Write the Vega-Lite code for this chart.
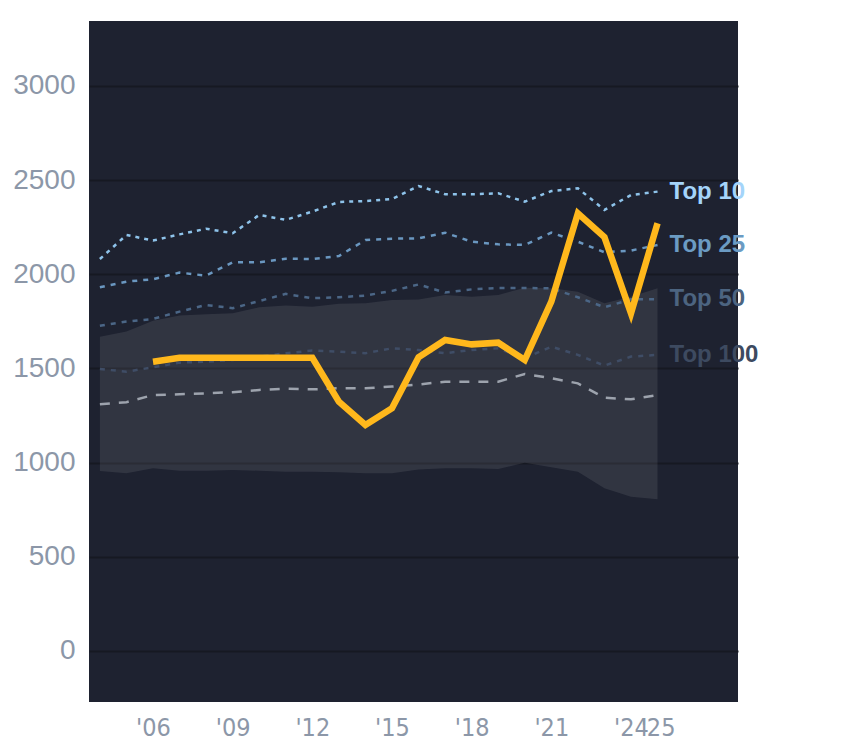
{
  "$schema": "https://vega.github.io/schema/vega-lite/v6.json",
  "width": 649,
  "height": 681,
  "autosize": {"type": "none"},
  "padding": {"left": 89, "top": 21, "right": 106, "bottom": 46},
  "background": "#ffffff",
  "config": {
    "view": {"fill": "#1e2230", "stroke": null},
    "font": "Liberation Sans"
  },
  "datasets": {
    "band": [
      {"year": 2004, "lo": 956, "hi": 1669},
      {"year": 2005, "lo": 943, "hi": 1696},
      {"year": 2006, "lo": 970, "hi": 1754},
      {"year": 2007, "lo": 957, "hi": 1781},
      {"year": 2008, "lo": 957, "hi": 1788},
      {"year": 2009, "lo": 961, "hi": 1793},
      {"year": 2010, "lo": 957, "hi": 1825},
      {"year": 2011, "lo": 952, "hi": 1835},
      {"year": 2012, "lo": 952, "hi": 1828},
      {"year": 2013, "lo": 949, "hi": 1843},
      {"year": 2014, "lo": 943, "hi": 1846},
      {"year": 2015, "lo": 943, "hi": 1864},
      {"year": 2016, "lo": 963, "hi": 1866},
      {"year": 2017, "lo": 970, "hi": 1890},
      {"year": 2018, "lo": 970, "hi": 1881},
      {"year": 2019, "lo": 966, "hi": 1890},
      {"year": 2020, "lo": 1000, "hi": 1929},
      {"year": 2021, "lo": 975, "hi": 1926},
      {"year": 2022, "lo": 952, "hi": 1908},
      {"year": 2023, "lo": 864, "hi": 1846},
      {"year": 2024, "lo": 819, "hi": 1881},
      {"year": 2025, "lo": 806, "hi": 1926}
    ],
    "tiers": [
      {"year": 2004, "series": "Top 10", "value": 2081},
      {"year": 2005, "series": "Top 10", "value": 2209},
      {"year": 2006, "series": "Top 10", "value": 2179},
      {"year": 2007, "series": "Top 10", "value": 2212},
      {"year": 2008, "series": "Top 10", "value": 2242},
      {"year": 2009, "series": "Top 10", "value": 2218},
      {"year": 2010, "series": "Top 10", "value": 2315},
      {"year": 2011, "series": "Top 10", "value": 2289},
      {"year": 2012, "series": "Top 10", "value": 2333},
      {"year": 2013, "series": "Top 10", "value": 2384},
      {"year": 2014, "series": "Top 10", "value": 2389},
      {"year": 2015, "series": "Top 10", "value": 2400},
      {"year": 2016, "series": "Top 10", "value": 2469},
      {"year": 2017, "series": "Top 10", "value": 2425},
      {"year": 2018, "series": "Top 10", "value": 2425},
      {"year": 2019, "series": "Top 10", "value": 2430},
      {"year": 2020, "series": "Top 10", "value": 2386},
      {"year": 2021, "series": "Top 10", "value": 2442},
      {"year": 2022, "series": "Top 10", "value": 2457},
      {"year": 2023, "series": "Top 10", "value": 2342},
      {"year": 2024, "series": "Top 10", "value": 2421},
      {"year": 2025, "series": "Top 10", "value": 2439},
      {"year": 2004, "series": "Top 25", "value": 1931},
      {"year": 2005, "series": "Top 25", "value": 1961},
      {"year": 2006, "series": "Top 25", "value": 1974},
      {"year": 2007, "series": "Top 25", "value": 2009},
      {"year": 2008, "series": "Top 25", "value": 1993},
      {"year": 2009, "series": "Top 25", "value": 2064},
      {"year": 2010, "series": "Top 25", "value": 2064},
      {"year": 2011, "series": "Top 25", "value": 2083},
      {"year": 2012, "series": "Top 25", "value": 2081},
      {"year": 2013, "series": "Top 25", "value": 2097},
      {"year": 2014, "series": "Top 25", "value": 2182},
      {"year": 2015, "series": "Top 25", "value": 2189},
      {"year": 2016, "series": "Top 25", "value": 2191},
      {"year": 2017, "series": "Top 25", "value": 2221},
      {"year": 2018, "series": "Top 25", "value": 2173},
      {"year": 2019, "series": "Top 25", "value": 2159},
      {"year": 2020, "series": "Top 25", "value": 2156},
      {"year": 2021, "series": "Top 25", "value": 2221},
      {"year": 2022, "series": "Top 25", "value": 2173},
      {"year": 2023, "series": "Top 25", "value": 2117},
      {"year": 2024, "series": "Top 25", "value": 2126},
      {"year": 2025, "series": "Top 25", "value": 2156},
      {"year": 2004, "series": "Top 50", "value": 1727},
      {"year": 2005, "series": "Top 50", "value": 1749},
      {"year": 2006, "series": "Top 50", "value": 1763},
      {"year": 2007, "series": "Top 50", "value": 1802},
      {"year": 2008, "series": "Top 50", "value": 1837},
      {"year": 2009, "series": "Top 50", "value": 1820},
      {"year": 2010, "series": "Top 50", "value": 1858},
      {"year": 2011, "series": "Top 50", "value": 1896},
      {"year": 2012, "series": "Top 50", "value": 1873},
      {"year": 2013, "series": "Top 50", "value": 1878},
      {"year": 2014, "series": "Top 50", "value": 1887},
      {"year": 2015, "series": "Top 50", "value": 1912},
      {"year": 2016, "series": "Top 50", "value": 1946},
      {"year": 2017, "series": "Top 50", "value": 1903},
      {"year": 2018, "series": "Top 50", "value": 1920},
      {"year": 2019, "series": "Top 50", "value": 1927},
      {"year": 2020, "series": "Top 50", "value": 1927},
      {"year": 2021, "series": "Top 50", "value": 1926},
      {"year": 2022, "series": "Top 50", "value": 1878},
      {"year": 2023, "series": "Top 50", "value": 1825},
      {"year": 2024, "series": "Top 50", "value": 1867},
      {"year": 2025, "series": "Top 50", "value": 1867},
      {"year": 2004, "series": "Top 100", "value": 1497},
      {"year": 2005, "series": "Top 100", "value": 1483},
      {"year": 2006, "series": "Top 100", "value": 1506},
      {"year": 2007, "series": "Top 100", "value": 1531},
      {"year": 2008, "series": "Top 100", "value": 1536},
      {"year": 2009, "series": "Top 100", "value": 1545},
      {"year": 2010, "series": "Top 100", "value": 1563},
      {"year": 2011, "series": "Top 100", "value": 1581},
      {"year": 2012, "series": "Top 100", "value": 1595},
      {"year": 2013, "series": "Top 100", "value": 1589},
      {"year": 2014, "series": "Top 100", "value": 1581},
      {"year": 2015, "series": "Top 100", "value": 1607},
      {"year": 2016, "series": "Top 100", "value": 1598},
      {"year": 2017, "series": "Top 100", "value": 1581},
      {"year": 2018, "series": "Top 100", "value": 1598},
      {"year": 2019, "series": "Top 100", "value": 1607},
      {"year": 2020, "series": "Top 100", "value": 1554},
      {"year": 2021, "series": "Top 100", "value": 1616},
      {"year": 2022, "series": "Top 100", "value": 1572},
      {"year": 2023, "series": "Top 100", "value": 1515},
      {"year": 2024, "series": "Top 100", "value": 1563},
      {"year": 2025, "series": "Top 100", "value": 1572},
      {"year": 2004, "series": "Median", "value": 1310},
      {"year": 2005, "series": "Median", "value": 1321},
      {"year": 2006, "series": "Median", "value": 1359},
      {"year": 2007, "series": "Median", "value": 1363},
      {"year": 2008, "series": "Median", "value": 1368},
      {"year": 2009, "series": "Median", "value": 1374},
      {"year": 2010, "series": "Median", "value": 1386},
      {"year": 2011, "series": "Median", "value": 1393},
      {"year": 2012, "series": "Median", "value": 1389},
      {"year": 2013, "series": "Median", "value": 1395},
      {"year": 2014, "series": "Median", "value": 1395},
      {"year": 2015, "series": "Median", "value": 1404},
      {"year": 2016, "series": "Median", "value": 1415},
      {"year": 2017, "series": "Median", "value": 1430},
      {"year": 2018, "series": "Median", "value": 1430},
      {"year": 2019, "series": "Median", "value": 1430},
      {"year": 2020, "series": "Median", "value": 1471},
      {"year": 2021, "series": "Median", "value": 1448},
      {"year": 2022, "series": "Median", "value": 1421},
      {"year": 2023, "series": "Median", "value": 1345},
      {"year": 2024, "series": "Median", "value": 1336},
      {"year": 2025, "series": "Median", "value": 1359}
    ],
    "main": [
      {"year": 2006, "value": 1536},
      {"year": 2007, "value": 1557},
      {"year": 2008, "value": 1557},
      {"year": 2009, "value": 1557},
      {"year": 2010, "value": 1557},
      {"year": 2011, "value": 1557},
      {"year": 2012, "value": 1557},
      {"year": 2013, "value": 1324},
      {"year": 2014, "value": 1200},
      {"year": 2015, "value": 1289},
      {"year": 2016, "value": 1560},
      {"year": 2017, "value": 1651},
      {"year": 2018, "value": 1628},
      {"year": 2019, "value": 1637},
      {"year": 2020, "value": 1545},
      {"year": 2021, "value": 1855},
      {"year": 2022, "value": 2324},
      {"year": 2023, "value": 2197},
      {"year": 2024, "value": 1793},
      {"year": 2025, "value": 2271}
    ]
  },
  "encoding": {
    "x": {
      "field": "year",
      "type": "quantitative",
      "title": null,
      "scale": {"domain": [2003.59, 2028.03], "nice": false, "zero": false},
      "axis": {
        "values": [2006, 2009, 2012, 2015, 2018, 2021, 2024, 2025],
        "labelExpr": "\"'\" + slice(toString(datum.value), 2)",
        "labelOverlap": false,
        "labelFont": "DejaVu Sans Condensed, Liberation Sans",
        "labelFontSize": 25,
        "labelColor": "#8c97a8",
        "labelPadding": 13,
        "ticks": false,
        "domain": false,
        "grid": false
      }
    },
    "y": {
      "type": "quantitative",
      "title": null,
      "scale": {"domain": [-271, 3345], "nice": false, "zero": false},
      "axis": {
        "values": [0, 500, 1000, 1500, 2000, 2500, 3000],
        "format": "d",
        "labelFontSize": 28,
        "labelColor": "#8c97a8",
        "labelPadding": 14,
        "ticks": false,
        "domain": false,
        "grid": true,
        "gridColor": "#161922",
        "gridWidth": 2
      }
    }
  },
  "layer": [
    {
      "data": {"name": "band"},
      "mark": {"type": "area", "color": "#ffffff", "opacity": 0.085},
      "encoding": {
        "y": {"field": "hi", "type": "quantitative"},
        "y2": {"field": "lo"}
      }
    },
    {
      "data": {"name": "tiers"},
      "mark": {"type": "line", "strokeWidth": 2.5},
      "encoding": {
        "y": {"field": "value", "type": "quantitative"},
        "detail": {"field": "series"},
        "color": {
          "field": "series",
          "type": "nominal",
          "legend": null,
          "scale": {
            "domain": ["Top 10", "Top 25", "Top 50", "Top 100", "Median"],
            "range": ["#8ec3ea", "#6a97c0", "#4b6686", "#3f4d66", "#9da3ad"]
          }
        },
        "strokeDash": {
          "field": "series",
          "type": "nominal",
          "legend": null,
          "scale": {
            "domain": ["Top 10", "Top 25", "Top 50", "Top 100", "Median"],
            "range": [[4, 5], [5, 6], [5, 6], [5, 6], [10, 9]]
          }
        }
      }
    },
    {
      "data": {"name": "main"},
      "mark": {"type": "line", "color": "#ffb81c", "strokeWidth": 6.5},
      "encoding": {
        "y": {"field": "value", "type": "quantitative"}
      }
    },
    {
      "data": {"name": "tiers"},
      "transform": [
        {"filter": "datum.year == 2025 && datum.series != 'Median'"}
      ],
      "mark": {
        "type": "text",
        "align": "left",
        "baseline": "middle",
        "dx": 12,
        "fontSize": 24,
        "fontWeight": "bold"
      },
      "encoding": {
        "y": {"field": "value", "type": "quantitative"},
        "text": {"field": "series"},
        "color": {
          "field": "series",
          "type": "nominal",
          "legend": null,
          "scale": {
            "domain": ["Top 10", "Top 25", "Top 50", "Top 100"],
            "range": ["#a4d4fa", "#6b9bc3", "#4c6480", "#3d4a60"]
          }
        }
      }
    }
  ],
  "resolve": {"scale": {"color": "independent"}}
}
